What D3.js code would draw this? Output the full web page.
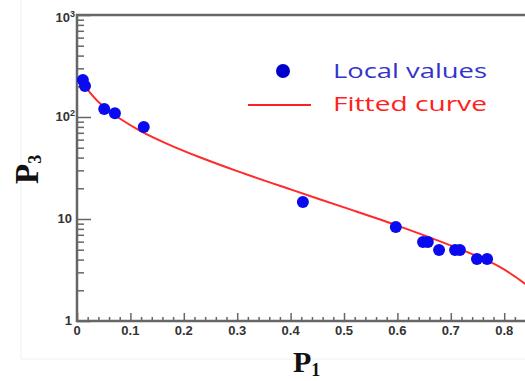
<!DOCTYPE html>
<html>
<head>
<meta charset="utf-8">
<script src="https://cdn.jsdelivr.net/npm/d3@7"></script>
<style>
  body { margin: 0; background: #fff; }
  svg { display: block; }
</style>
</head>
<body>
<div id="chart"></div>
<script>
// local values
const p1Local = [0.011, 0.015, 0.051, 0.071, 0.125, 0.423, 0.597, 0.648, 0.657, 0.678, 0.708, 0.717, 0.749, 0.768];
const p3Local = [231, 201, 120, 109, 80, 14.7, 8.35, 5.95, 5.95, 4.97, 4.97, 4.97, 4.05, 4.05];

// fitted curve
const p1Fit = [0.005, 0.025, 0.05, 0.08, 0.12, 0.17, 0.23, 0.30, 0.40, 0.50, 0.60, 0.68, 0.74, 0.79, 0.84, 0.86];
const p3Fit = [242.7, 171.8, 125.9, 96.6, 72.4, 54.3, 40.3, 29.5, 19.5, 13.0, 8.61, 6.03, 4.52, 3.43, 2.29, 1.86];

const xMajor = [0, 0.1, 0.2, 0.3, 0.4, 0.5, 0.6, 0.7, 0.8];
const xLabels = ["0", "0.1", "0.2", "0.3", "0.4", "0.5", "0.6", "0.7", "0.8"];
const yMajor = [1, 10, 100, 1000];

const width = 525, height = 381;
const svg = d3.select("#chart").append("svg")
    .attr("width", width)
    .attr("height", height);

const x = d3.scaleLinear().domain([0, 0.9]).range([77, 77 + 0.9 * 534]);
const y = d3.scaleLog().domain([1, 1000]).range([321, 15]);

// faint image border
svg.append("path")
    .attr("d", "M21,0V359H525")
    .attr("fill", "none")
    .attr("stroke", "#efefef")
    .attr("stroke-width", 1);

const axisColor = "#666";

// minor ticks
const xMinor = d3.range(0, 0.9001, 0.02).filter(v => Math.abs(v * 10 - Math.round(v * 10)) > 1e-6);
svg.append("g")
    .attr("transform", "translate(0,321)")
    .call(d3.axisBottom(x).tickValues(xMinor).tickSize(-4).tickFormat(""))
    .call(g => g.select(".domain").remove());

const yMinor = [];
[1, 10, 100].forEach(d => { for (let k = 2; k <= 9; k++) yMinor.push(d * k); });
svg.append("g")
    .attr("transform", "translate(77,0)")
    .call(d3.axisLeft(y).tickValues(yMinor).tickSize(-7).tickFormat(""))
    .call(g => g.select(".domain").remove());

// major ticks
svg.append("g")
    .attr("transform", "translate(0,321)")
    .call(d3.axisBottom(x).tickValues(xMajor).tickSize(-8).tickFormat(""))
    .call(g => g.select(".domain").remove());

svg.append("g")
    .attr("transform", "translate(77,0)")
    .call(d3.axisLeft(y).tickValues(yMajor).tickSize(-14).tickFormat(""))
    .call(g => g.select(".domain").remove());

svg.selectAll(".tick line")
    .attr("stroke", axisColor)
    .attr("stroke-width", 1.5);

// frame: left, bottom, top
svg.append("path")
    .attr("d", `M${x(0.9)},${y(1000)}H${x(0)}V${y(1)}H${x(0.9)}`)
    .attr("fill", "none")
    .attr("stroke", axisColor)
    .attr("stroke-width", 2.5);

// tick labels
const labelFont = "'Liberation Sans', Arial, sans-serif";
svg.append("g").selectAll("text")
    .data(xMajor)
    .join("text")
    .attr("x", d => x(d))
    .attr("y", 335)
    .attr("text-anchor", "middle")
    .attr("font-family", labelFont)
    .attr("font-weight", "bold")
    .attr("font-size", 13)
    .attr("fill", "#333")
    .text((d, i) => xLabels[i]);

const yLab = svg.append("g")
    .attr("font-family", labelFont)
    .attr("font-weight", "bold")
    .attr("font-size", 13)
    .attr("fill", "#333");

yLab.append("text").attr("x", 72).attr("y", y(1) + 4)
    .attr("text-anchor", "end").text("1");
yLab.append("text").attr("x", 72).attr("y", y(10) + 4)
    .attr("text-anchor", "end").text("10");
[[100, "2"], [1000, "3"]].forEach(([v, e]) => {
    const t = yLab.append("text").attr("x", 75).attr("y", y(v) + (v === 1000 ? 7 : 4))
        .attr("text-anchor", "end");
    t.append("tspan").text("10");
    t.append("tspan").attr("font-size", 9).attr("dy", -5).text(e);
});

// fitted curve
const line = d3.line()
    .x((d, i) => x(p1Fit[i]))
    .y((d, i) => y(p3Fit[i]))
    .curve(d3.curveCatmullRom);

svg.append("path")
    .datum(p1Fit)
    .attr("d", line)
    .attr("fill", "none")
    .attr("stroke", "#ff2a2a")
    .attr("stroke-width", 2);

// local values
svg.append("g").selectAll("circle")
    .data(p1Local)
    .join("circle")
    .attr("cx", d => x(d))
    .attr("cy", (d, i) => y(p3Local[i]))
    .attr("r", 6)
    .attr("fill", "#0a0af0");

// axis titles
const serif = "'Liberation Serif', 'Times New Roman', serif";
const xt = svg.append("text")
    .attr("x", 293)
    .attr("y", 372)
    .attr("font-family", serif)
    .attr("font-weight", "bold")
    .attr("font-size", 30)
    .attr("fill", "#111");
xt.append("tspan").text("P");
xt.append("tspan").attr("font-size", 18).attr("dy", 4).text("1");

const yt = svg.append("text")
    .attr("transform", "translate(38,184) rotate(-90)")
    .attr("font-family", serif)
    .attr("font-weight", "bold")
    .attr("font-size", 33)
    .attr("fill", "#111");
yt.append("tspan").text("P");
yt.append("tspan").attr("font-size", 18).attr("dy", 3).text("3");

// legend
const legendFont = "'Open Sans', 'Noto Sans', sans-serif";
function legendText(label, ty, color) {
    const t = svg.append("text")
        .attr("x", 0).attr("y", 0)
        .attr("font-family", legendFont)
        .attr("font-size", 20)
        .attr("fill", color)
        .text(label);
    const w = t.node().getComputedTextLength();
    t.attr("transform", `translate(333,${ty}) scale(${154 / w},1)`);
}

svg.append("circle")
    .attr("cx", 283).attr("cy", 71).attr("r", 7)
    .attr("fill", "#0000cc");
legendText("Local values", 78, "#3333cc");

svg.append("line")
    .attr("x1", 248).attr("x2", 311)
    .attr("y1", 105).attr("y2", 105)
    .attr("stroke", "#ff2020")
    .attr("stroke-width", 2);
legendText("Fitted curve", 111, "#ff2020");
</script>
</body>
</html>
